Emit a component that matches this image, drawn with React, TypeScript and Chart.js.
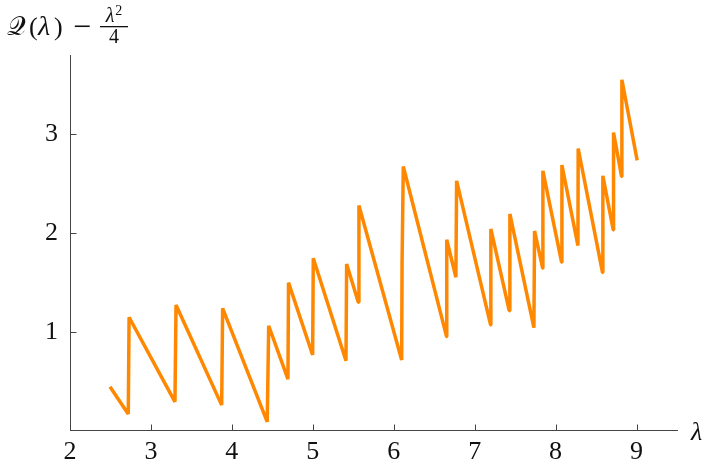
import React, { useEffect, useRef } from 'react';
import { Chart, registerables } from 'chart.js';

Chart.register(...registerables);

const lambdaValues = [
  2.494, 2.72, 2.73, 3.297, 3.31, 3.874, 3.886, 4.437, 4.455, 4.693, 4.7,
  4.998, 5.006, 5.41, 5.418, 5.562, 5.57, 6.098, 6.103, 6.118, 6.653, 6.655,
  6.768, 6.777, 7.197, 7.2, 7.427, 7.435, 7.732, 7.74, 7.84, 7.843, 8.074,
  8.078, 8.276, 8.279, 8.58, 8.584, 8.712, 8.716, 8.815, 8.819, 9.008,
];
const qValues = [
  0.443, 0.166, 1.146, 0.29, 1.27, 0.257, 1.237, 0.088, 1.06, 0.52, 1.496,
  0.764, 1.744, 0.706, 1.686, 1.298, 2.277, 0.713, 1.7, 2.672, 0.95, 1.93,
  1.551, 2.527, 1.068, 2.04, 1.213, 2.192, 1.04, 2.02, 1.642, 2.628, 1.703,
  2.686, 1.871, 2.854, 1.598, 2.577, 2.03, 3.016, 2.57, 3.55, 2.733,
];
const xTickValues = [2, 3, 4, 5, 6, 7, 8, 9];
const yTickValues = [1, 2, 3];

const AXIS_COLOR = '#444444';
const LINE_COLOR = '#ff8800';
const SERIF = '"Liberation Serif", "DejaVu Serif", serif';

const decorPlugin = {
  id: 'decor',
  afterDraw(chart: any) {
    const { ctx, scales } = chart;
    const xs = scales.x;
    const ys = scales.y;
    ctx.save();
    // inward tick marks
    ctx.strokeStyle = AXIS_COLOR;
    ctx.lineWidth = 1;
    const x0 = Math.round(xs.left) + 0.5;
    const y0 = Math.round(ys.bottom) - 0.5;
    ctx.beginPath();
    for (const v of xTickValues) {
      if (v === xs.min) continue;
      const px = Math.round(xs.getPixelForValue(v)) + 0.5;
      ctx.moveTo(px, y0);
      ctx.lineTo(px, y0 - 6);
    }
    for (const v of yTickValues) {
      const py = Math.round(ys.getPixelForValue(v)) + 0.5;
      ctx.moveTo(x0, py);
      ctx.lineTo(x0 + 6, py);
    }
    ctx.stroke();

    // y axis title: Q(λ) − λ²/4
    ctx.fillStyle = '#111111';
    ctx.textBaseline = 'alphabetic';
    ctx.textAlign = 'left';
    const base = 35;
    ctx.font = `26px ${SERIF}`;
    ctx.fillText('𝒬', 7, base);
    ctx.font = `26px ${SERIF}`;
    ctx.fillText('(', 29, base);
    ctx.font = `italic 28px ${SERIF}`;
    ctx.fillText('λ', 38, base);
    ctx.font = `26px ${SERIF}`;
    ctx.fillText(')', 54, base);
    ctx.font = `32px ${SERIF}`;
    ctx.fillText('−', 73, base + 2);
    // fraction
    const fracLeft = 100;
    const fracW = 28;
    ctx.fillRect(fracLeft, 26, fracW, 1.3);
    ctx.font = `italic 20px ${SERIF}`;
    const lw = ctx.measureText('λ').width;
    ctx.font = `14px ${SERIF}`;
    const sw = ctx.measureText('2').width;
    const numStart = fracLeft + (fracW - lw - sw - 1) / 2;
    ctx.font = `italic 20px ${SERIF}`;
    ctx.fillText('λ', numStart, 22);
    ctx.font = `14px ${SERIF}`;
    ctx.fillText('2', numStart + lw + 1, 15);
    ctx.font = `20px ${SERIF}`;
    ctx.textAlign = 'center';
    ctx.fillText('4', fracLeft + fracW / 2, 43);

    // x axis title
    ctx.textAlign = 'left';
    ctx.font = `italic 26px ${SERIF}`;
    ctx.fillText('λ', 691, 440);
    ctx.restore();
  },
};

export default function App() {
  const canvasRef = useRef<HTMLCanvasElement | null>(null);

  useEffect(() => {
    document.body.style.margin = '0';
    const canvas = canvasRef.current;
    if (!canvas) return;
    const points = lambdaValues.map((v, i) => ({ x: v, y: qValues[i] }));
    const chart = new Chart(canvas, {
      type: 'line',
      data: {
        datasets: [
          {
            data: points,
            borderColor: LINE_COLOR,
            backgroundColor: LINE_COLOR,
            borderWidth: 3.5,
            pointRadius: 0,
            tension: 0,
            borderJoinStyle: 'bevel',
            borderCapStyle: 'butt',
            fill: false,
          },
        ],
      },
      options: {
        responsive: false,
        animation: false,
        events: [],
        layout: { padding: { top: 55, right: 30, bottom: 0, left: 0 } },
        plugins: { legend: { display: false }, tooltip: { enabled: false } },
        scales: {
          x: {
            type: 'linear',
            min: 2,
            max: 9.5,
            afterFit: (s: any) => {
              s.height = 38.5;
            },
            afterBuildTicks: (s: any) => {
              s.ticks = xTickValues.map((v) => ({ value: v }));
            },
            grid: { display: true, drawOnChartArea: false, drawTicks: false },
            border: { display: true, color: AXIS_COLOR, width: 1 },
            ticks: {
              padding: 6,
              color: '#111111',
              font: { family: SERIF, size: 26 },
              maxRotation: 0,
              autoSkip: false,
            },
          },
          y: {
            type: 'linear',
            min: 0,
            max: 3.8,
            afterFit: (s: any) => {
              s.width = 70;
            },
            afterBuildTicks: (s: any) => {
              s.ticks = yTickValues.map((v) => ({ value: v }));
            },
            grid: { display: true, drawOnChartArea: false, drawTicks: false },
            border: { display: true, color: AXIS_COLOR, width: 1 },
            ticks: {
              padding: 12,
              color: '#111111',
              font: { family: SERIF, size: 26 },
              autoSkip: false,
            },
          },
        },
      },
      plugins: [decorPlugin],
    });
    return () => chart.destroy();
  }, []);

  return (
    <div style={{ width: 707, height: 469 }}>
      <canvas ref={canvasRef} width={707} height={469} style={{ display: 'block', width: 707, height: 469 }} />
    </div>
  );
}
